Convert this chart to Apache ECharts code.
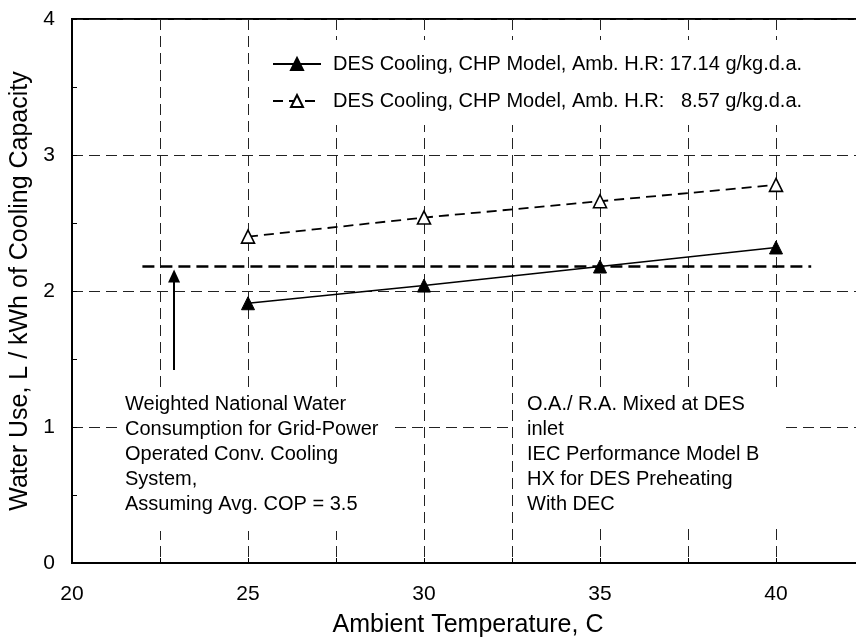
<!DOCTYPE html>
<html>
<head>
<meta charset="utf-8">
<script src="https://cdn.jsdelivr.net/npm/echarts@6/dist/echarts.min.js"></script>
<style>
  html, body { margin: 0; padding: 0; background: #fff; }
  #chart { width: 856px; height: 642px; }
</style>
</head>
<body>
<div id="chart"></div>
<script>
var temps = [25, 30, 35, 40];
var highHR = [1.91, 2.04, 2.18, 2.32];
var lowHR = [2.40, 2.54, 2.66, 2.78];
var gridRefX = [22, 41];
var gridRefY = 2.18;
var arrowX = 22.9;
var arrowY = [1.42, 2.11];
var seriesNames = [
    'DES Cooling, CHP Model, Amb. H.R: 17.14 g/kg.d.a.',
    'DES Cooling, CHP Model, Amb. H.R:   8.57 g/kg.d.a.'
];
var leftNote = ['Weighted National Water', 'Consumption for Grid-Power', 'Operated Conv. Cooling', 'System,', 'Assuming Avg. COP = 3.5'];
var rightNote = ['O.A./ R.A. Mixed at DES', 'inlet', 'IEC Performance Model B', 'HX for DES Preheating', 'With DEC'];

function pairs(xs, ys) {
    return xs.map(function (x, i) { return [x, ys[i]]; });
}

var font = 'Liberation Sans, Arial, sans-serif';
var chart = echarts.init(document.getElementById('chart'));

var option = {
    animation: false,
    backgroundColor: '#fff',
    textStyle: { fontFamily: font, color: '#000' },
    grid: {
        left: 72, top: 19, right: -8, bottom: 79,
        outerBoundsMode: 'none',
        show: true, borderColor: '#000', borderWidth: 2
    },
    legend: {
        orient: 'vertical',
        left: 262, top: 40,
        padding: [14, 12, 14, 10],
        backgroundColor: '#fff',
        itemWidth: 48, itemHeight: 15, itemGap: 17,
        textStyle: { fontSize: 20, color: '#000', fontFamily: font, padding: [0, 0, 0, 7] },
        data: seriesNames
    },
    xAxis: {
        type: 'value',
        min: 20, max: 42.5, interval: 2.5,
        name: 'Ambient Temperature, C',
        nameLocation: 'middle', nameGap: 50,
        nameTextStyle: { fontSize: 25, color: '#000', fontFamily: font },
        axisLine: { show: true, lineStyle: { color: '#000', width: 2 } },
        axisTick: { show: true, inside: true, length: 5, lineStyle: { color: '#000' } },
        axisLabel: {
            fontSize: 21, color: '#000', margin: 21, fontFamily: font,
            formatter: function (v) { return v % 5 === 0 && v <= 40 ? String(v) : ''; }
        },
        splitLine: { show: true, lineStyle: { color: '#222', width: 1, type: [11, 6] } }
    },
    yAxis: {
        type: 'value',
        min: 0, max: 4, interval: 1,
        name: 'Water Use, L / kWh of Cooling Capacity',
        nameLocation: 'middle', nameGap: 38,
        nameTextStyle: { fontSize: 25, color: '#000', fontFamily: font },
        axisLine: { show: true, lineStyle: { color: '#000', width: 2 } },
        axisTick: { show: true, inside: true, length: 5, lineStyle: { color: '#000' } },
        minorTick: { show: true, splitNumber: 2, length: 5, lineStyle: { color: '#000' } },
        axisLabel: { fontSize: 21, color: '#000', margin: 17, fontFamily: font },
        splitLine: { show: true, lineStyle: { color: '#222', width: 1, type: [11, 6] } }
    },
    series: [
        {
            name: seriesNames[0],
            type: 'line',
            data: pairs(temps, highHR),
            symbol: 'triangle', symbolSize: 13,
            itemStyle: { color: '#000', borderColor: '#000', borderWidth: 1 },
            lineStyle: { color: '#000', width: 1.6, type: 'solid' },
            z: 5
        },
        {
            name: seriesNames[1],
            type: 'line',
            data: pairs(temps, lowHR),
            symbol: 'triangle', symbolSize: 13,
            itemStyle: { color: '#fff', borderColor: '#000', borderWidth: 1.6 },
            lineStyle: { color: '#000', width: 1.8, type: [10, 6] },
            z: 5
        },
        {
            name: 'reference',
            type: 'line',
            data: pairs(gridRefX, [gridRefY, gridRefY]),
            symbol: 'none',
            lineStyle: { color: '#000', width: 2.4, type: [12, 6] },
            z: 4,
            markLine: {
                silent: true,
                symbol: ['none', 'triangle'],
                symbolSize: [12, 13],
                label: { show: false },
                lineStyle: { color: '#000', width: 2, type: 'solid' },
                data: [[
                    { coord: [arrowX, arrowY[0]] },
                    { coord: [arrowX, arrowY[1]] }
                ]]
            }
        }
    ],
    graphic: [
        {
            type: 'text', left: 122, top: 390, z: 10,
            style: {
                text: leftNote.join('\n'),
                font: '20px ' + font, fill: '#000', lineHeight: 25,
                backgroundColor: '#fff', padding: [2, 12, 14, 3]
            }
        },
        {
            type: 'text', left: 513, top: 390, z: 10,
            style: {
                text: rightNote.join('\n'),
                font: '20px ' + font, fill: '#000', lineHeight: 25,
                backgroundColor: '#fff', padding: [2, 26, 8, 14]
            }
        }
    ]
};

chart.setOption(option);
</script>
</body>
</html>
